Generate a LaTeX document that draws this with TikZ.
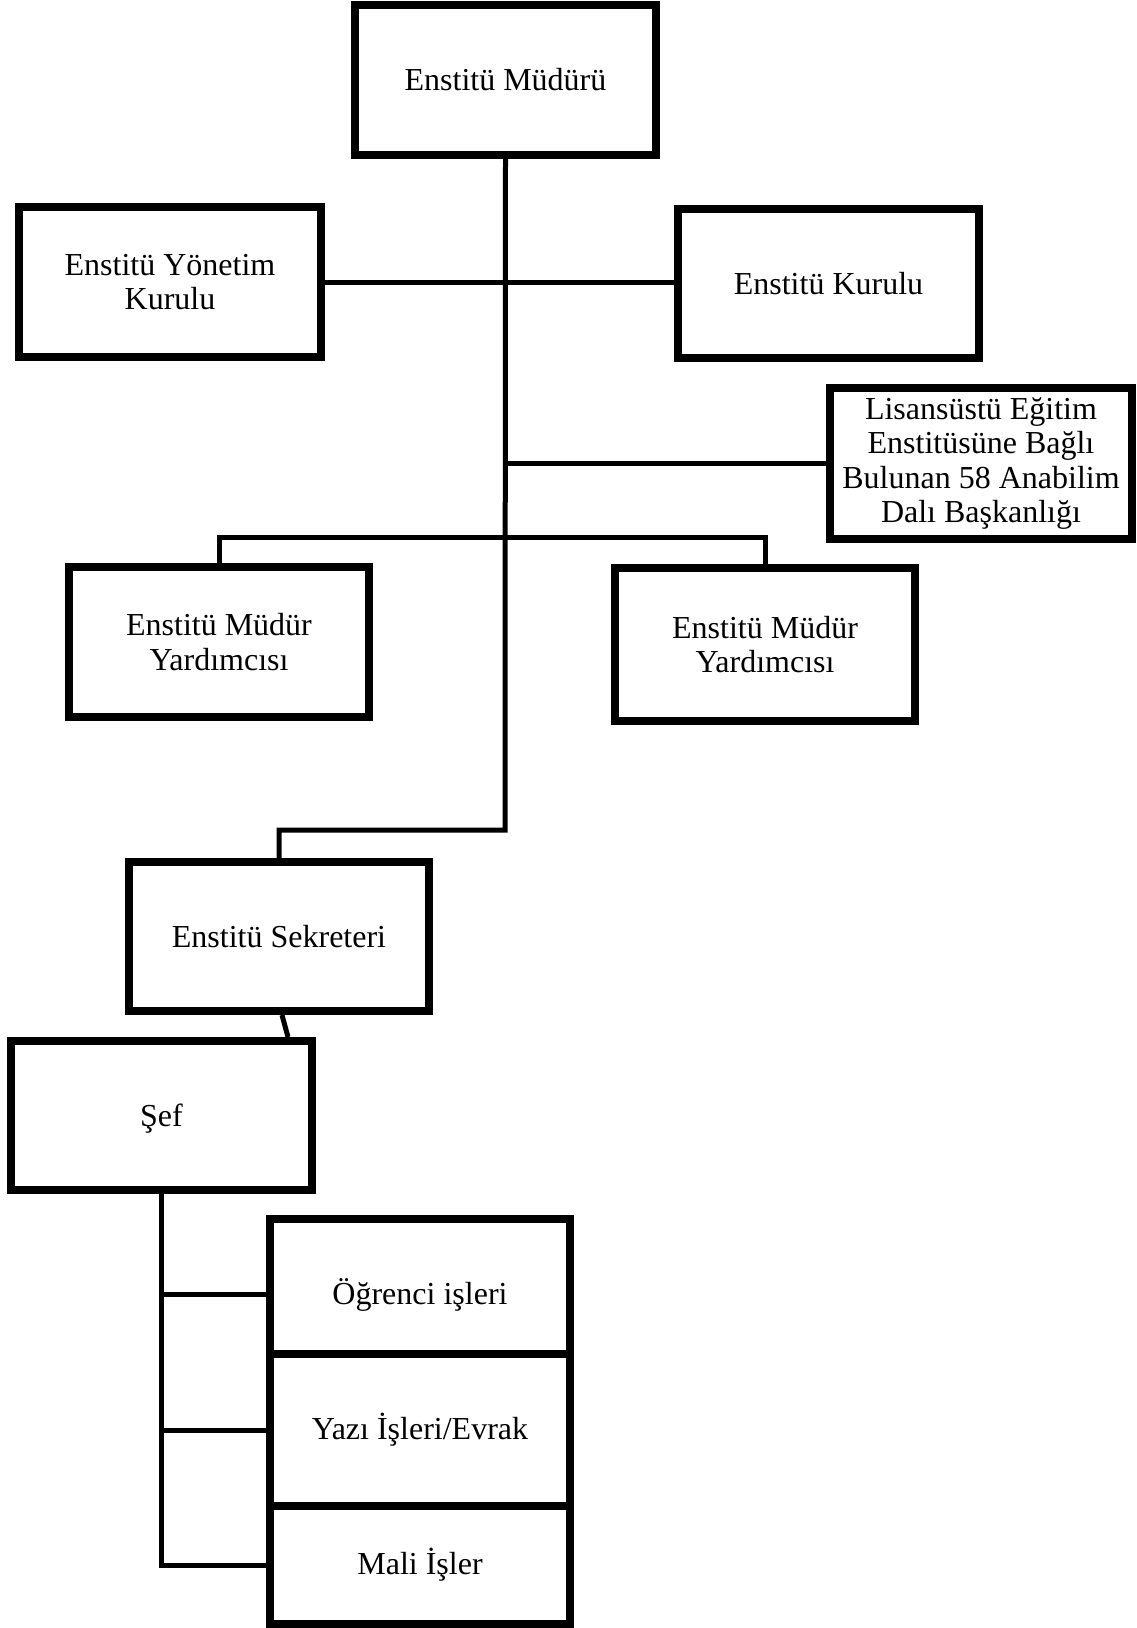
\documentclass[tikz,border=0pt]{standalone}
\usepackage{fontspec}
\setmainfont{Liberation Serif}
\usetikzlibrary{shadows}
\tikzset{
  orgbox/.style={draw=black, line width=8pt, fill=white, align=center,
    inner sep=2pt, font=\fontsize{32}{34.5}\selectfont,
    drop shadow={shadow xshift=2.5pt, shadow yshift=-2.5pt, fill=black, opacity=0.22}},
  conn/.style={draw=black, line width=5pt, line join=miter}
}
\begin{document}
\begin{tikzpicture}[x=1pt,y=-1pt]
\fill[white] (0,0) rectangle (1137,1628);
\path[use as bounding box] (0,0) rectangle (1137,1628);

\node[orgbox, minimum width=301pt, minimum height=150pt] (A) at (505.5,80) {Enstitü Müdürü};
\node[orgbox, minimum width=302pt, minimum height=150pt] (B) at (170,282) {Enstitü Yönetim\\Kurulu};
\node[orgbox, minimum width=301pt, minimum height=149pt] (C) at (828.5,283.5) {Enstitü Kurulu};
\node[orgbox, minimum width=302pt, minimum height=151pt] (D) at (981,463.5) {Lisansüstü Eğitim\\Enstitüsüne Bağlı\\Bulunan 58 Anabilim\\Dalı Başkanlığı};
\node[orgbox, minimum width=300pt, minimum height=150pt] (E) at (219,642) {Enstitü Müdür\\Yardımcısı};
\node[orgbox, minimum width=300pt, minimum height=153pt] (F) at (765,644.5) {Enstitü Müdür\\Yardımcısı};
\node[orgbox, minimum width=300pt, minimum height=149pt] (G) at (279,936.5) {Enstitü Sekreteri};
\node[orgbox, minimum width=301pt, minimum height=149pt, text height=25pt, text depth=3pt] (H) at (161.5,1115.5) {Şef};
\node[orgbox, minimum width=300pt, minimum height=135pt, text height=40pt, text depth=4pt] (I) at (420,1286.5) {Öğrenci işleri};
\node[orgbox, minimum width=300pt, minimum height=152pt] (J) at (420,1430) {Yazı İşleri/Evrak};
\node[orgbox, minimum width=300pt, minimum height=118pt] (K) at (420,1565) {Mali İşler};

\coordinate (bend) at (505,830);
\draw[conn] (A.south) -- (bend) -| (G.north);
\draw[conn] (B.east) -- (B.east -| C.west);
\draw[conn] (A.south |- D.west) -- (D.west);
\draw[conn] (E.north) -- ++(0,-26) -| (F.north);
\draw[conn] ([xshift=3pt]G.south) -- ([xshift=126.5pt]H.north);
\draw[conn] (H.south) -- (H.south |- K.west) -- (K.west);
\draw[conn] (H.south |- J.west) -- (J.west);
\draw[conn] ([yshift=-7.5pt]I.west -| H.south) -- ([yshift=-7.5pt]I.west);
\end{tikzpicture}
\end{document}
